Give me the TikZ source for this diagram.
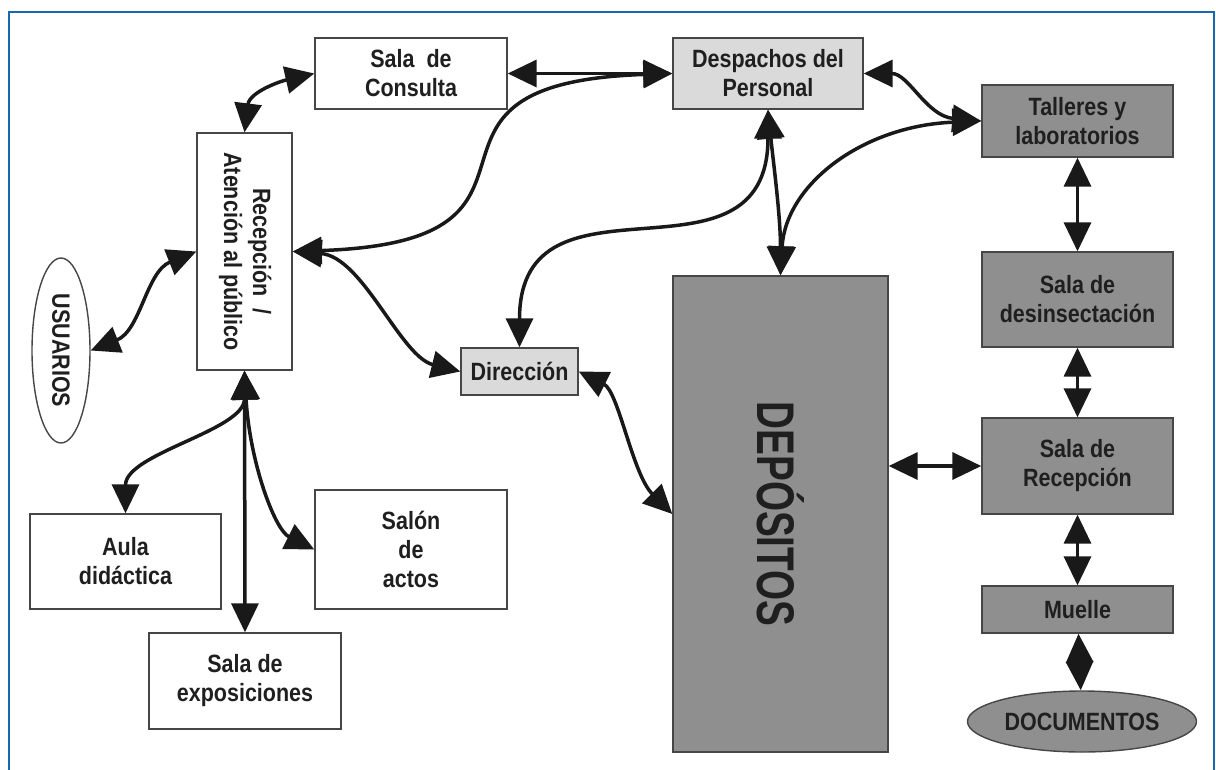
\documentclass[tikz,border=0pt]{standalone}
\usepackage{graphicx}
\usepackage{fontspec}
\newfontfamily\plano[FakeStretch=0.86]{Liberation Sans}
\newfontfamily\planoestrecho[FakeStretch=0.73]{Liberation Sans}
\usetikzlibrary{arrows.meta,shapes.geometric}
\definecolor{marco}{RGB}{24,104,176}
\definecolor{grisclaro}{RGB}{218,218,218}
\definecolor{grisoscuro}{RGB}{143,143,143}
\definecolor{trazo}{RGB}{70,70,70}

\begin{document}
\begin{tikzpicture}[x=1pt, y=-1pt,
  room/.style={draw=trazo, line width=1.4pt, fill=white, inner sep=0pt,
    align=center, text=black!88,
    font=\plano\bfseries\fontsize{25}{29}\selectfont},
  office/.style={room, fill=grisclaro},
  store/.style={room, fill=grisoscuro},
  oval/.style={room, ellipse},
  link/.style={<->, line width=3.5pt, black!90},
  >={Triangle[length=29pt,width=27pt]}
]
\useasboundingbox (0,0) rectangle (1216,769);
\draw[marco, line width=2.5pt] (9,775) -- (9,12) -- (1214,12) -- (1214,775);

% public side
\node[oval, fill=white, minimum width=58pt, minimum height=185pt] (usu) at (61,350.5)
  {\rotatebox{-90}{USUARIOS}};
\node[room, minimum width=95pt, minimum height=237pt] (rec) at (244.5,251.5)
  {\rotatebox{-90}{\begin{tabular}{@{}c@{}}Recepción~~/\\Atención al público\end{tabular}}};
\node[room, minimum width=192pt, minimum height=71pt] (cons) at (411,73.5)
  {Sala~~de\\Consulta};
\node[room, minimum width=191pt, minimum height=95pt] (aula) at (125.5,561.5)
  {Aula\\didáctica};
\node[room, minimum width=192pt, minimum height=119pt] (salon) at (411,549.5)
  {Salón\\de\\actos};
\node[room, minimum width=192pt, minimum height=96pt] (expo) at (245,681)
  {Sala de\\exposiciones};

% staff
\node[office, minimum width=190pt, minimum height=71pt] (desp) at (768,73.5)
  {Despachos del\\Personal};
\node[office, minimum width=117pt, minimum height=47pt] (dir) at (519.5,371.5)
  {Dirección};

% storage side
\node[store, minimum width=215pt, minimum height=476pt] (dep) at (780.5,514)
  {\rotatebox{-90}{\planoestrecho\bfseries\fontsize{53}{60}\selectfont DEPÓSITOS}};
\node[store, minimum width=191pt, minimum height=72pt] (tall) at (1077.5,121)
  {Talleres y\\laboratorios};
\node[store, minimum width=191pt, minimum height=95pt] (desi) at (1077.5,299.5)
  {Sala de\\desinsectación};
\node[store, minimum width=191pt, minimum height=96pt] (recs) at (1077.5,466)
  {Sala de\\Recepción};
\node[store, minimum width=191pt, minimum height=47pt] (mue) at (1077.5,609.5)
  {Muelle};
\node[oval, fill=grisoscuro, minimum width=229pt, minimum height=61pt] (doc) at (1082,721.5)
  {DOCUMENTOS};

% connections
\draw[link] (rec.north) .. controls +(5,-40) and +(-35,8) .. (cons.west);
\draw[link] (cons.east) -- (desp.west);
\draw[link] (rec.east) .. controls +(300,-10) and +(-300,10) .. (desp.west);
\draw[link] (usu.east) .. controls +(50,-20) and +(-50,20) .. (rec.west);
\draw[link] (rec.east) .. controls +(70,5) and +(-60,-15) .. (dir.west);
\draw[link] (desp.south) .. controls +(0,190) and +(0,-190) .. (dir.north);
\draw[link] (desp.south) .. controls +(5,50) and +(0,-60) .. (dep.north);
\draw[link] (desp.east) .. controls +(45,0) and +(-55,-5) .. (tall.west);
\draw[link] (tall.west) .. controls +(-120,5) and +(5,-90) .. (dep.north);
\draw[link] (dir.east) .. controls +(40,20) and +(-40,-40) .. (dep.west);
\draw[link] (tall) -- (desi);
\draw[link] (desi) -- (recs);
\draw[link] (dep.east |- recs.west) -- (recs.west);
\draw[link] (recs) -- (mue);
\draw[link] (mue) -- (doc);
\draw[link] (rec.south) .. controls +(0,60) and +(0,-60) .. (aula.north);
\draw[link] (rec.south) -- (expo.north);
\draw[link] (rec.south) .. controls +(5,90) and +(-40,-20) .. (salon.west);
\end{tikzpicture}
\end{document}
